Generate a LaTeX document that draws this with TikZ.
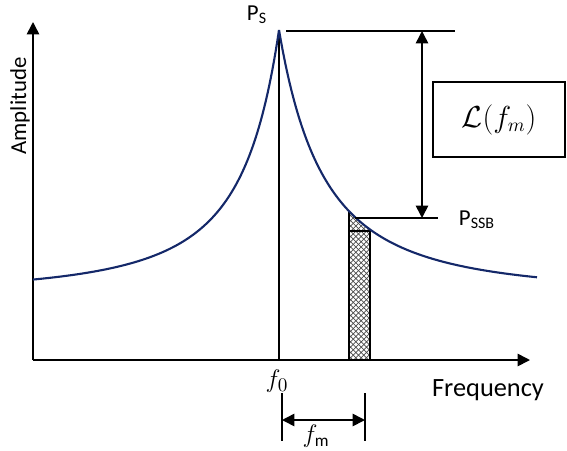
\documentclass[tikz,border=0pt]{standalone}
\usepackage{amsmath,amssymb}
\usepackage{fontspec}
\setmainfont{Carlito}
\usepackage{tikz}
\usetikzlibrary{arrows.meta,patterns}

\definecolor{lineblue}{RGB}{20,40,105}

\begin{document}
\begin{tikzpicture}[
x=0.02cm,y=-0.02cm,
font=\fontsize{13}{15}\selectfont,
axis/.style={-{Triangle[length=7pt,width=7pt]}, line width=0.9pt},
dim/.style={{Triangle[length=7pt,width=7pt]}-{Triangle[length=7pt,width=7pt]}, line width=0.9pt},
guide/.style={line width=0.9pt},
spec/.style={line width=1.2pt, lineblue},
band/.style={pattern=crosshatch, pattern color=black!70},
lbox/.style={draw, line width=0.7pt, minimum width=132*0.02cm, minimum height=75*0.02cm}
]
\useasboundingbox (0,0) rectangle (567,450);
% axes
\coordinate (o) at (33,360);
\coordinate (ytip) at (33,22);
\coordinate (xtip) at (530,360);
\draw[axis] (o) -- (ytip);
\draw[axis] (o) -- (xtip);
\node[rotate=90] (amp) at (20,106) {Amplitude};
\node[font=\fontsize{15}{17}\selectfont] (freq) at (488,390) {Frequency};
% carrier line
\coordinate (fbase) at (279,360);
\coordinate (peak) at (279,30);
\draw[guide] (fbase) -- (peak);
\node[font=\fontsize{15}{17}\selectfont] (f0) at (277,381) {$f_0$};
% noise band
\coordinate (bl) at (349,360);
\coordinate (br) at (370,360);
\coordinate (bt) at (349,231);
\coordinate (btr) at (370,231);
\fill[band] (bl) -- (349,{360-(65+265/(1+70/90)^2)})
  -- plot[domain=349:370,samples=20] (\x,{360-(65+265/(1+(\x-279)/90)^2)})
  -- (br) -- cycle;
\draw[line width=1.3pt] (bl) rectangle (btr);
\draw[line width=1.3pt] (bt) -- (349,{360-(65+265/(1+70/90)^2)});
% spectrum
\draw[spec] plot[domain=33:279,samples=150] (\x,{360-(65+265/(1+(279-\x)/78.3)^2)});
\draw[spec] plot[domain=279:537,samples=150] (\x,{360-(65+265/(1+(\x-279)/90)^2)});
% levels
\coordinate (ps1) at (286,31);
\coordinate (ps2) at (455,31);
\coordinate (pssb1) at (355,218);
\coordinate (pssb2) at (438,218);
\draw[guide] (ps1) -- (ps2);
\draw[guide] (pssb1) -- (pssb2);
\coordinate (ta) at (422,31);
\coordinate (tb) at (422,218);
\draw[dim] (ta) -- (tb);
\node (ps) at (257,15) {P\textsubscript{S}};
\node (pssb) at (477,220) {P\textsubscript{SSB}};
\node[lbox] (lf) at (499,119.5) {\fontsize{16}{18}\selectfont$\mathcal{L}(f_m)$};
% offset
\coordinate (m1a) at (282,393);
\coordinate (m1b) at (282,441);
\coordinate (m2a) at (365,393);
\coordinate (m2b) at (365,441);
\draw[guide] (m1a) -- (m1b);
\draw[guide] (m2a) -- (m2b);
\draw[dim] (282,420) -- (365,420);
\node[font=\fontsize{14}{16}\selectfont, inner sep=1pt] (fm) at (316,436) {$f_{\mathrm{m}}$};
\end{tikzpicture}
\end{document}
